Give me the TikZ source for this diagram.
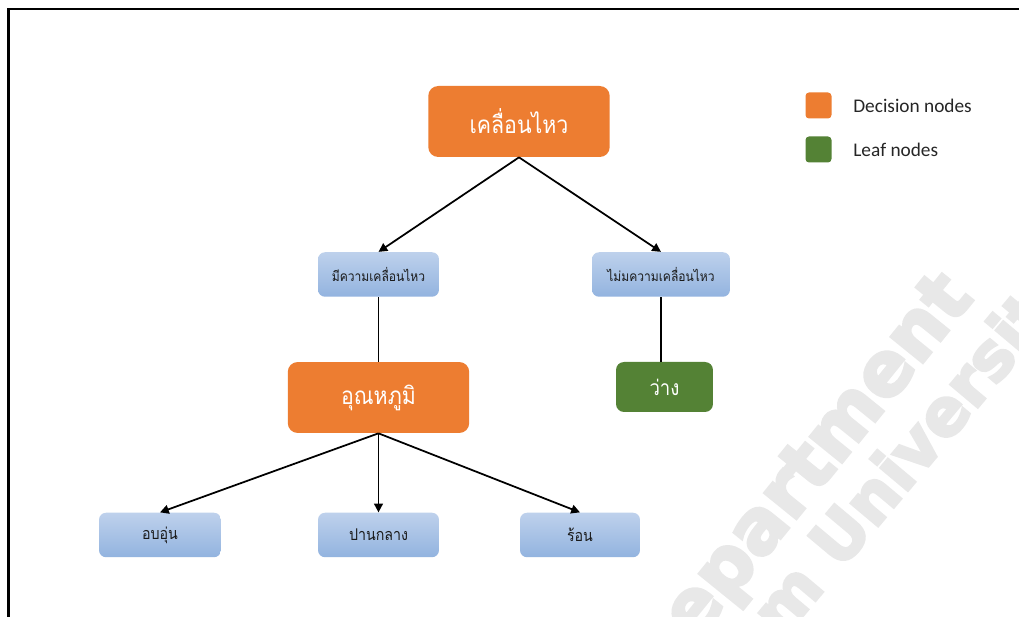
\documentclass[tikz,border=0pt]{standalone}
\usepackage{fontspec}
\usetikzlibrary{arrows.meta}
\newfontfamily\thai[Script=Thai, FakeStretch=0.88]{Loma}
\newfontfamily\legendfont{Carlito}
\newfontfamily\markfont[BoldFeatures={FakeBold=4}]{DejaVu Sans}

\definecolor{decision}{HTML}{ED7D31}
\definecolor{leaf}{HTML}{548235}
\definecolor{valtop}{HTML}{BED1EC}
\definecolor{valbot}{HTML}{92B3DF}
\definecolor{valtext}{HTML}{1A1A1A}
\definecolor{mark}{HTML}{E8E8E8}

\tikzset{
  decisionbox/.style={fill=decision, rounded corners=0.2cm, inner sep=0pt,
    minimum width=3.63cm, minimum height=1.42cm, text=white,
    font=\thai\fontsize{13.8}{16}\selectfont},
  leafbox/.style={fill=leaf, rounded corners=0.16cm, inner sep=0pt,
    minimum width=1.94cm, minimum height=1.0cm, text=white,
    font=\thai\fontsize{12}{14}\selectfont},
  valuebox/.style={top color=valtop, bottom color=valbot, draw=none,
    rounded corners=0.14cm, inner sep=0pt, minimum height=0.89cm,
    text=valtext, font=\thai\fontsize{7.8}{9}\selectfont},
  outcome/.style={valuebox, font=\thai\fontsize{9.2}{11}\selectfont},
  keybox/.style={rounded corners=0.07cm, inner sep=0pt, minimum size=0.52cm},
  keytext/.style={anchor=west, inner sep=0pt, text=black!85,
    font=\legendfont\fontsize{11}{13}\selectfont},
  branch/.style={line width=1pt, black, -{Triangle[length=5pt,width=5pt]}},
  stem/.style={line width=1pt, black},
  frameline/.style={line width=1.2pt, black},
  marktext/.style={anchor=base west, inner sep=0pt, text=mark}
}

\begin{document}
\begin{tikzpicture}[x=0.02cm, y=-0.02cm]
  \useasboundingbox (0,0) rectangle (1019,617);
  \fill[white] (0,0) rectangle (1019,617);

  % faint watermark, cut off at the page edges
  \begin{scope}
    \clip (0,0) rectangle (1019,617);
    \node[marktext, rotate=51, font=\markfont\bfseries\fontsize{42.5}{42.5}\selectfont] (wm1) at (656,692) {Department};
    \node[marktext, rotate=50, font=\markfont\bfseries\fontsize{37}{37}\selectfont] (wm2) at (467,1016) {Mahasarakham University};
  \end{scope}

  % frame
  \draw[frameline] (8.5,617) -- (8.5,9) -- (1019,9);

  % tree nodes
  \node[decisionbox] (move) at (519,121.5) {เคลื่อนไหว};
  \node[valuebox, minimum width=2.42cm] (yes) at (378.5,274.5) {มีความเคลื่อนไหว};
  \node[valuebox, minimum width=2.76cm] (no) at (661,274.5) {ไม่มความเคลื่อนไหว};
  \node[decisionbox] (temp) at (378.5,397.5) {อุณหภูมิ};
  \node[leafbox] (empty) at (664.5,387) {ว่าง};
  \node[outcome, minimum width=2.44cm] (warm) at (160,535) {อบอุ่น};
  \node[outcome, minimum width=2.42cm] (mid) at (378.5,535) {ปานกลาง};
  \node[outcome, minimum width=2.40cm] (hot) at (580,535) {ร้อน};

  % connectors
  \draw[branch] (move.south) -- (yes.north);
  \draw[branch] (move.south) -- (no.north);
  \draw[stem] (yes.south) -- (temp.north);
  \draw[stem] (no.south) -- (no.south |- empty.north);
  \draw[branch] (temp.south) -- (warm.north);
  \draw[branch] (temp.south) -- (mid.north);
  \draw[branch] (temp.south) -- (hot.north);

  % legend
  \node[keybox, fill=decision] (kdec) at (818.5,105.5) {};
  \node[keybox, fill=leaf] (kleaf) at (818.5,149.5) {};
  \node[keytext] (tdec) at (853,105.5) {Decision nodes};
  \node[keytext] (tleaf) at (853,149.5) {Leaf nodes};
\end{tikzpicture}
\end{document}
